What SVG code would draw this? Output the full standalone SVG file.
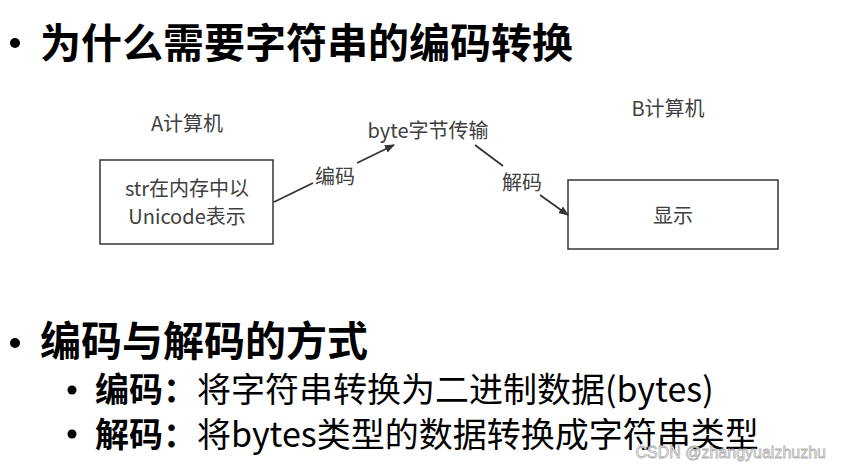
<svg xmlns="http://www.w3.org/2000/svg" width="841" height="469" viewBox="0 0 841 469">
<style>
.h{font-family:"Noto Sans CJK SC","Noto Sans",sans-serif;font-weight:bold;fill:#000}
.d{font-family:"Noto Sans CJK SC","Noto Sans",sans-serif;font-size:20px;fill:#404040}
.s{font-family:"Noto Sans CJK SC","Noto Sans",sans-serif;font-size:34px;fill:#000}
.box{fill:#fff;stroke:#404040;stroke-width:1.6}
.ln{stroke:#333;stroke-width:1.8;fill:none}
</style>
<defs>
<marker id="ah" markerWidth="10" markerHeight="8" refX="9" refY="4" orient="auto" markerUnits="userSpaceOnUse">
<path d="M0,0 L10,4 L0,8 Z" fill="#333"/>
</marker>
</defs>
<rect width="841" height="469" fill="#fff"/>
<g id="title">
<circle cx="15" cy="43" r="5" fill="#000"/>
<text class="h" x="40" y="58" font-size="41">为什么需要字符串的编码转换</text>
</g>
<g id="labelA"><text class="d" x="187" y="131" text-anchor="middle">A计算机</text></g>
<g id="labelB"><text class="d" x="668" y="116" text-anchor="middle">B计算机</text></g>
<g id="nodeA">
<rect class="box" x="100" y="160" width="173" height="84"/>
<text class="d" x="187" y="196" text-anchor="middle">str在内存中以</text>
<text class="d" x="187" y="224" text-anchor="middle">Unicode表示</text>
</g>
<g id="transfer"><text class="d" x="428" y="138" text-anchor="middle">byte字节传输</text></g>
<g id="nodeB">
<rect class="box" x="568" y="180" width="210" height="69"/>
<text class="d" x="673" y="223" text-anchor="middle">显示</text>
</g>
<g id="connectors">
<line class="ln" x1="274" y1="202" x2="313" y2="183"/>
<line class="ln" x1="357" y1="163" x2="394" y2="145" marker-end="url(#ah)"/>
<text class="d" x="335" y="184" text-anchor="middle">编码</text>
<line class="ln" x1="475" y1="145" x2="503" y2="166"/>
<line class="ln" x1="540" y1="195" x2="568" y2="215" marker-end="url(#ah)"/>
<text class="d" x="522" y="190" text-anchor="middle">解码</text>
</g>
<g id="heading2">
<circle cx="15" cy="343" r="5" fill="#000"/>
<text class="h" x="40" y="356" font-size="41">编码与解码的方式</text>
</g>
<g id="item1">
<circle cx="72" cy="390" r="4.5" fill="#000"/>
<text class="s" x="95" y="402"><tspan font-weight="bold">编码：</tspan>将字符串转换为二进制数据(bytes)</text>
</g>
<g id="item2">
<circle cx="72" cy="434" r="4.5" fill="#000"/>
<text class="s" x="95" y="447"><tspan font-weight="bold">解码：</tspan>将bytes类型的数据转换成字符串类型</text>
</g>
<g id="watermark">
<text x="826" y="458" text-anchor="end" font-family="'Liberation Sans',sans-serif" font-size="16" fill="#fff" stroke="#b0b0b0" stroke-width="0.8">CSDN @zhangyuaizhuzhu</text>
</g>
</svg>
